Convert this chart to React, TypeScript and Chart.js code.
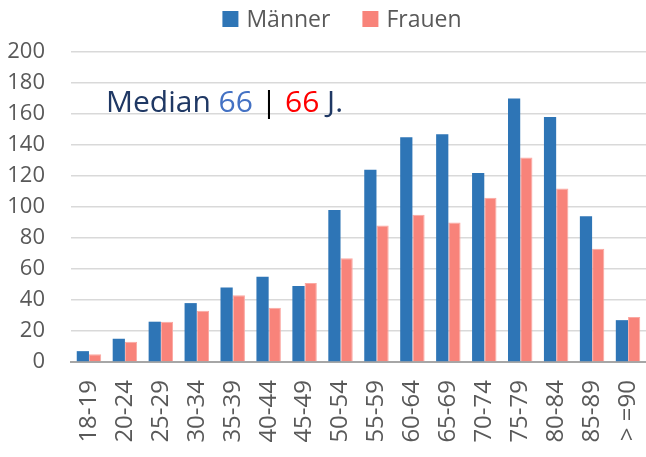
import React, { useEffect, useRef } from "react";
import { Chart, registerables } from "chart.js";
Chart.register(...registerables);

const categories = ["18-19","20-24","25-29","30-34","35-39","40-44","45-49","50-54","55-59","60-64","65-69","70-74","75-79","80-84","85-89","> =90"];
const maenner = [7,15,26,38,48,55,49,98,124,145,147,122,170,158,94,27];
const frauen = [5,13,26,33,43,35,51,67,88,95,90,106,132,112,73,29];
const yTicks = { min: 0, max: 200, step: 20 };
const medianParts: [string, string][] = [["Median ", "#1F3864"], ["66", "#4472C4"], [" | ", "#000000"], ["66", "#FF0000"], [" J.", "#1F3864"]];

const FONT = "'Open Sans', 'Noto Sans', sans-serif";
const BLUE = "#2E75B6";
const SALMON = "#F8837A";

const medianPlugin = {
  id: "medianText",
  afterDraw(chart: any) {
    const ctx = chart.ctx;
    const ys = chart.scales.y;
    ctx.save();
    ctx.font = `30px ${FONT}`;
    ctx.textBaseline = "alphabetic";
    ctx.textAlign = "left";
    let x = chart.chartArea.left + 35;
    const y = ys.getPixelForValue(161.5);
    for (const [t, c] of medianParts) {
      ctx.fillStyle = c;
      ctx.fillText(t, x, y);
      x += ctx.measureText(t).width;
    }
    ctx.restore();
  },
};

const legendPlugin = {
  id: "customLegend",
  afterDraw(chart: any) {
    const ctx = chart.ctx;
    ctx.save();
    ctx.font = `23px ${FONT}`;
    ctx.textBaseline = "middle";
    ctx.textAlign = "left";
    const items = chart.data.datasets.map((d: any) => ({ text: d.label, color: d.backgroundColor }));
    const box = 16, gapBoxText = 8, gapItems = 32;
    let total = 0;
    items.forEach((it: any, i: number) => {
      total += box + gapBoxText + ctx.measureText(it.text).width + (i < items.length - 1 ? gapItems : 0);
    });
    let x = (chart.width - total) / 2 + 19;
    const cy = 19;
    for (const it of items) {
      ctx.fillStyle = it.color;
      ctx.fillRect(x, cy - box / 2, box, box);
      x += box + gapBoxText;
      ctx.fillStyle = "#595959";
      ctx.fillText(it.text, x, cy + 1);
      x += ctx.measureText(it.text).width + gapItems;
    }
    ctx.restore();
  },
};

export default function App() {
  const ref = useRef<HTMLCanvasElement>(null);
  useEffect(() => {
    document.body.style.margin = "0";
    const chart = new Chart(ref.current!, {
      type: "bar",
      data: {
        labels: categories,
        datasets: [
          { label: "Männer", data: maenner, backgroundColor: BLUE, borderColor: BLUE, borderWidth: 0, categoryPercentage: 0.68, barPercentage: 1 },
          { label: "Frauen", data: frauen, backgroundColor: SALMON, borderColor: "#FBA8A2", borderWidth: 1, categoryPercentage: 0.68, barPercentage: 1 },
        ],
      },
      options: {
        responsive: false,
        animation: false,
        layout: { padding: { top: 52, right: 0, left: 0, bottom: 0 } },
        plugins: {
          legend: { display: false },
          tooltip: { enabled: false },
        },
        scales: {
          x: {
            grid: { display: false, drawTicks: false },
            border: { color: "#A6A6A6", width: 2 },
            ticks: { font: { family: FONT, size: 24 }, color: "#595959", minRotation: 90, maxRotation: 90, autoSkip: false, padding: 18 },
            afterFit(scale: any) { scale.height = 95; scale.paddingLeft = 0; scale.paddingRight = 0; },
          },
          y: {
            min: yTicks.min,
            max: yTicks.max,
            grid: { color: "#D9D9D9", lineWidth: 1.5, drawTicks: false },
            border: { display: false },
            ticks: { stepSize: yTicks.step, font: { family: FONT, size: 22 }, color: "#595959", padding: 26 },
            afterFit(scale: any) { scale.width = 71; scale.paddingTop = 0; scale.paddingBottom = 0; },
          },
        },
      },
      plugins: [medianPlugin, legendPlugin],
    } as any);
    return () => chart.destroy();
  }, []);
  return <canvas ref={ref} width={646} height={457} style={{ display: "block" }} />;
}
